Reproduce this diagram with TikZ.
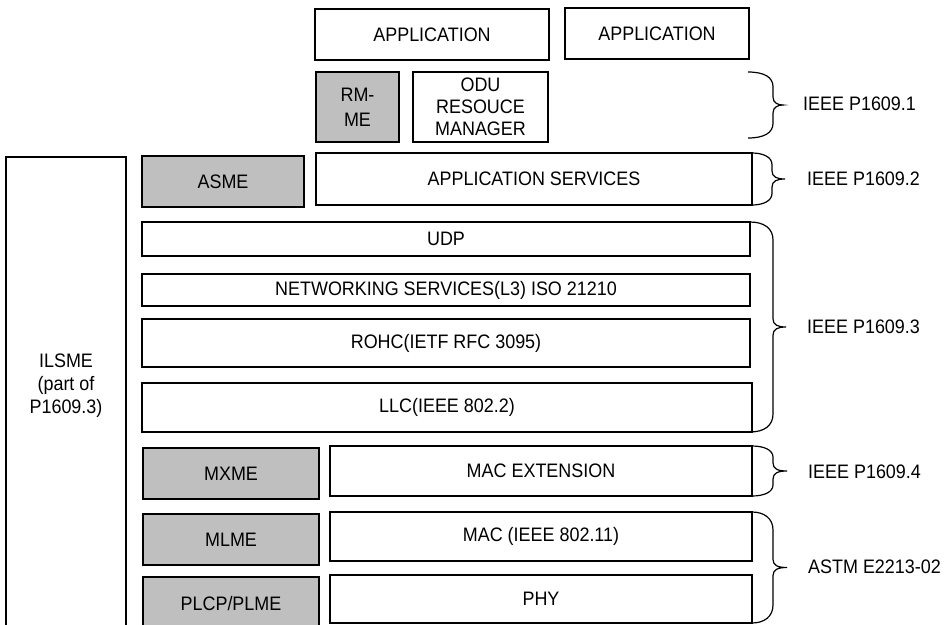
\documentclass[tikz,border=0pt]{standalone}
\usepackage{fontspec}
\setmainfont{Liberation Sans}[FakeStretch=0.92]
\newcommand{\diagfont}{\fontsize{19.5}{23}\selectfont}
\newcommand{\drawbrace}[5]{%
  \pgfmathsetmacro{\bym}{(#2+#3)/2}%
  \pgfmathsetmacro{\byr}{min(18,(#3-#2)/4.5)}%
  \draw[bracel] (#1,#2) .. controls ({#4-9},#2) and (#4,{#2+\byr*0.35}) .. (#4,{#2+\byr})
    -- (#4,{\bym-8}) .. controls (#4,{\bym-2}) and ({#4+5},\bym) .. (#5,\bym)
    .. controls ({#4+5},\bym) and (#4,{\bym+2}) .. (#4,{\bym+8})
    -- (#4,{#3-\byr}) .. controls (#4,{#3-\byr*0.35}) and ({#4-9},#3) .. (#1,#3);}
\begin{document}
\begin{tikzpicture}[x=1pt,y=-1pt,
  box/.style={draw, line width=1.3pt, inner sep=0pt, outer sep=0pt, align=center, font=\diagfont},
  mgmt/.style={box, fill=black!25},
  bracel/.style={line width=1.2pt},
  stdlabel/.style={anchor=west, inner sep=0pt, font=\diagfont}]
\useasboundingbox (0,0) rectangle (952,624);
\fill[white] (0,0) rectangle (952,624);
% top
\node[box, minimum width=234, minimum height=51] (app1) at (432,34.5) {APPLICATION};
\node[box, minimum width=184, minimum height=51] (app2) at (657,33.5) {APPLICATION};
\node[mgmt, minimum width=83, minimum height=70] (rmme) at (357.5,107) {RM-\\[2pt]ME};
\node[box, minimum width=135, minimum height=70] (odu) at (480.5,107) {ODU\\[-1pt]RESOUCE\\[-1pt]MANAGER};
% ILSME column
\node[box, minimum width=120, minimum height=473] (ilsme) at (66,393.5) {};
\node[align=center, font=\diagfont, inner sep=0pt] (ilsmetext) at (66,386) {ILSME\\(part of\\P1609.3)};
% layers
\node[mgmt, minimum width=162, minimum height=51] (asme) at (223,181.5) {ASME};
\node[box, minimum width=436, minimum height=52] (appserv) at (534,179) {APPLICATION SERVICES};
\node[box, minimum width=608, minimum height=34] (udp) at (446,239) {UDP};
\node[box, minimum width=608, minimum height=32] (net) at (446,290) {NETWORKING SERVICES(L3) ISO 21210};
\node[box, minimum width=608, minimum height=48] (rohc) at (446,343) {ROHC(IETF RFC 3095)};
\node[box, minimum width=610, minimum height=49] (llc) at (447,407.5) {LLC(IEEE 802.2)};
\node[mgmt, minimum width=176, minimum height=51] (mxme) at (231,473.5) {MXME};
\node[box, minimum width=422, minimum height=50] (macext) at (541,471) {MAC EXTENSION};
\node[mgmt, minimum width=176, minimum height=51] (mlme) at (231,539.5) {MLME};
\node[box, minimum width=422, minimum height=49] (mac) at (541,536.5) {MAC (IEEE 802.11)};
\node[mgmt, minimum width=176, minimum height=53] (plcp) at (231,603.5) {PLCP/PLME};
\node[box, minimum width=422, minimum height=48] (phy) at (541,599) {PHY};
% braces
\drawbrace{748}{72}{138}{773}{783}
\drawbrace{752}{153}{205}{772}{785}
\drawbrace{750}{222}{432}{773}{786}
\drawbrace{752}{446}{496}{773}{787}
\drawbrace{752}{512}{623}{773}{787}
% labels
\node[stdlabel] (l1) at (803,104) {IEEE P1609.1};
\node[stdlabel] (l2) at (807,179) {IEEE P1609.2};
\node[stdlabel] (l3) at (807,327) {IEEE P1609.3};
\node[stdlabel] (l4) at (808,472) {IEEE P1609.4};
\node[stdlabel] (l5) at (808,567) {ASTM E2213-02};
\end{tikzpicture}
\end{document}
